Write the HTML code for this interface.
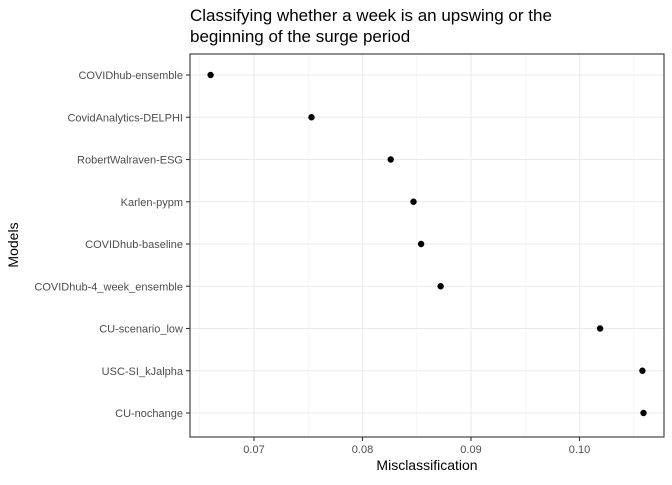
<!DOCTYPE html>
<html><head><meta charset="utf-8"><style>
body{margin:0;background:#fff;font-family:"Liberation Sans",Arial,sans-serif}
</style></head><body>
<svg id="chart" width="672" height="480" xmlns="http://www.w3.org/2000/svg">
<text x="190" y="21" font-size="17" fill="#000">Classifying whether a week is an upswing or the</text>
<text x="190" y="42" font-size="17" fill="#000">beginning of the surge period</text>
<g id="grid"></g><g id="axes"></g><g id="marks"></g>
<rect x="190" y="54" width="474" height="383" fill="none" stroke="#333" stroke-width="1.1"/>
<text x="427" y="470" font-size="14" text-anchor="middle">Misclassification</text>
<text transform="translate(18,245) rotate(-90)" font-size="14" text-anchor="middle">Models</text>
</svg>
<script>
const models=["COVIDhub-ensemble","CovidAnalytics-DELPHI","RobertWalraven-ESG","Karlen-pypm","COVIDhub-baseline","COVIDhub-4_week_ensemble","CU-scenario_low","USC-SI_kJalpha","CU-nochange"];
const values=[0.0660,0.0753,0.0826,0.0847,0.0854,0.0872,0.1019,0.1058,0.1059];
const xTicks=[0.07,0.08,0.09,0.10];
const xTickLabels=["0.07","0.08","0.09","0.10"];
const NS="http://www.w3.org/2000/svg";
const x=v=>254+(v-0.07)*10850;
const y=i=>75+i*42.25;
function mk(p,t,a){const e=document.createElementNS(NS,t);for(const k in a)e.setAttribute(k,a[k]);p.appendChild(e);return e;}
const g=document.getElementById('grid'),ax=document.getElementById('axes'),m=document.getElementById('marks');
mk(g,'rect',{x:190,y:54,width:474,height:383,fill:'#fff'});
for(let k=0;k<xTicks.length+1;k++){const v=0.065+k*0.01;const l=mk(g,'line',{x1:x(v),x2:x(v),y1:54,y2:437,stroke:'#f0f0f0','stroke-width':0.6});

}
xTicks.forEach((v,k)=>{const l=mk(g,'line',{x1:x(v),x2:x(v),y1:54,y2:437,stroke:'#ebebeb','stroke-width':1.1});


mk(ax,'line',{x1:x(v),x2:x(v),y1:437,y2:441,stroke:'#333','stroke-width':1.1});
const t=mk(ax,'text',{x:x(v),y:453,'font-size':11,fill:'#4d4d4d','text-anchor':'middle'});t.textContent=xTickLabels[k];

});
models.forEach((n,i)=>{const l=mk(g,'line',{x1:190,x2:664,y1:y(i),y2:y(i),stroke:'#ebebeb','stroke-width':1.1});


mk(ax,'line',{x1:186,x2:190,y1:y(i),y2:y(i),stroke:'#333','stroke-width':1.1});
const t=mk(ax,'text',{x:183,y:y(i)+4,'font-size':11,fill:'#4d4d4d','text-anchor':'end'});t.textContent=n;


const c=mk(m,'circle',{cx:x(values[i]),cy:y(i),r:3.2,fill:'#000'});

});
</script>
</body></html>
